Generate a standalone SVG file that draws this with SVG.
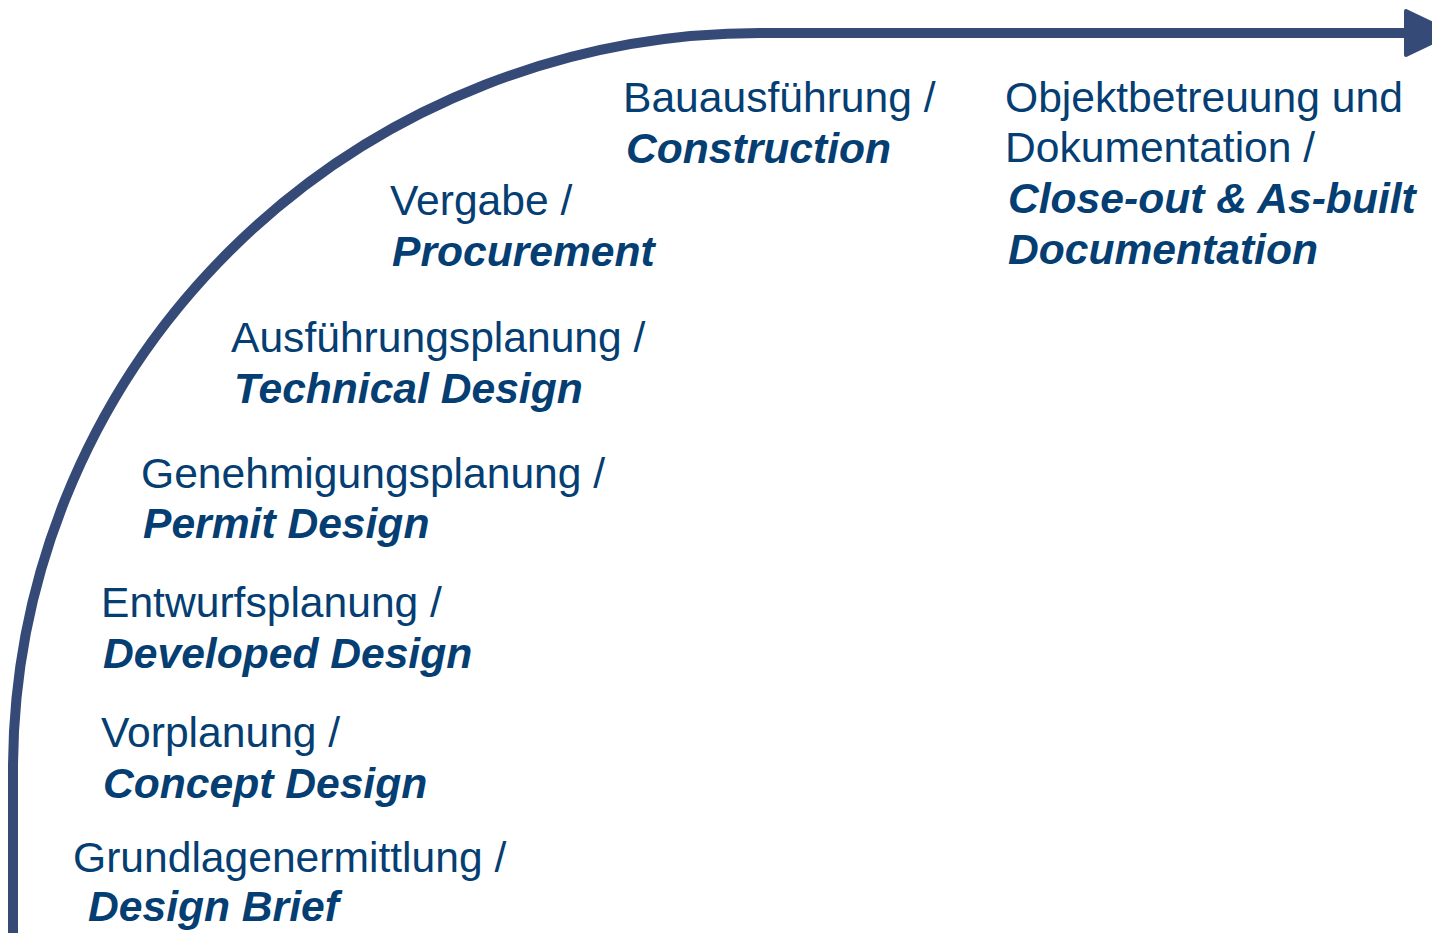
<svg xmlns="http://www.w3.org/2000/svg" width="1432" height="933" viewBox="0 0 1432 933">
<style>
.t{font-family:"Liberation Sans",Arial,sans-serif;font-size:42.6px;fill:#053e72}
.b{font-weight:bold;font-style:italic}
.arc{fill:none;stroke:#364a78;stroke-width:10}
.head{fill:#364a78;stroke:#364a78;stroke-width:4;stroke-linejoin:round}
</style>
<rect width="1432" height="933" fill="#ffffff"/>
<g id="connectors">
<path class="arc" d="M13 940 L13 770 A747 737 0 0 1 760 33 L1410 33"/>
<polygon class="head" points="1406,11 1406,55 1452,33"/>
</g>
<g id="node-grundlagen">
<text class="t" x="73" y="872">Grundlagenermittlung /</text>
<text class="t b" x="88" y="921">Design Brief</text>
</g>
<g id="node-vorplanung">
<text class="t" x="101" y="747">Vorplanung /</text>
<text class="t b" x="103" y="798">Concept Design</text>
</g>
<g id="node-entwurf">
<text class="t" x="101" y="617">Entwurfsplanung /</text>
<text class="t b" x="103" y="668">Developed Design</text>
</g>
<g id="node-genehmigung">
<text class="t" x="141" y="488">Genehmigungsplanung /</text>
<text class="t b" x="143" y="538">Permit Design</text>
</g>
<g id="node-ausfuehrung">
<text class="t" x="231" y="352">Ausführungsplanung /</text>
<text class="t b" x="234" y="403">Technical Design</text>
</g>
<g id="node-vergabe">
<text class="t" x="390" y="215">Vergabe /</text>
<text class="t b" x="392" y="266">Procurement</text>
</g>
<g id="node-bau">
<text class="t" x="623" y="112">Bauausführung /</text>
<text class="t b" x="626" y="163">Construction</text>
</g>
<g id="node-objekt">
<text class="t" x="1005" y="112">Objektbetreuung und</text>
<text class="t" x="1005" y="162">Dokumentation /</text>
<text class="t b" x="1008" y="213">Close-out &amp; As-built</text>
<text class="t b" x="1008" y="264">Documentation</text>
</g>
</svg>
